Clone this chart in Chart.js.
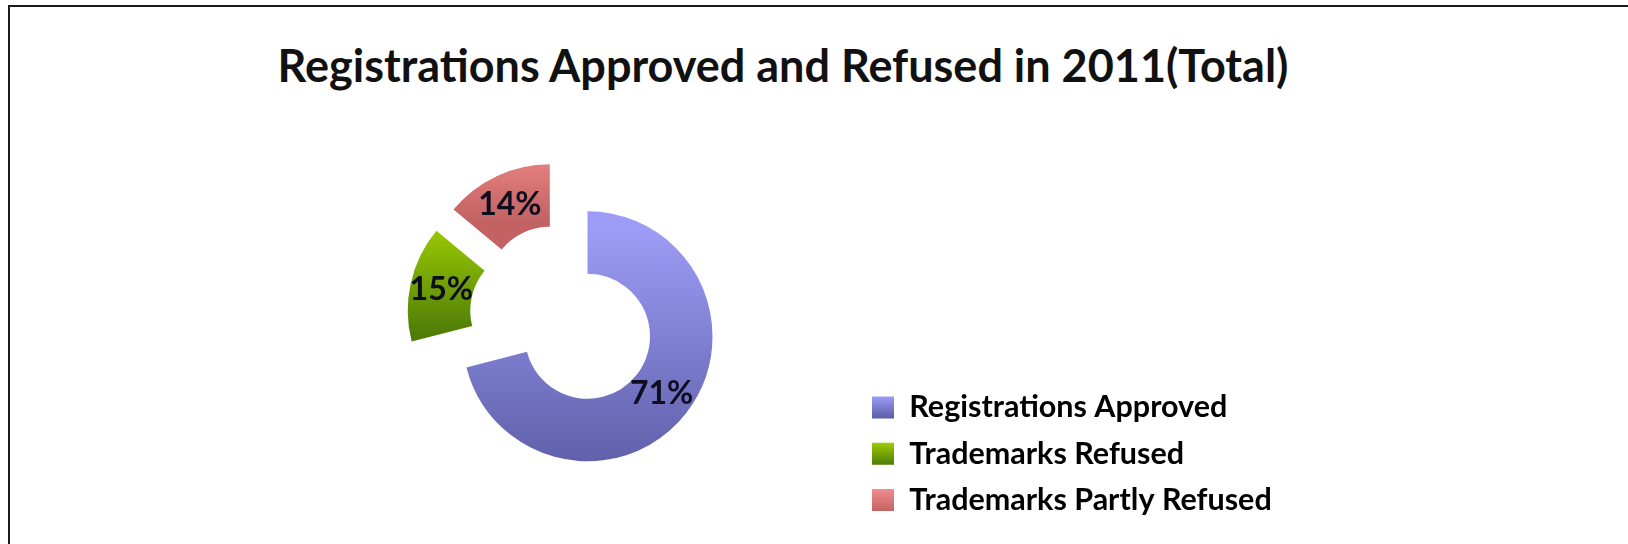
<!DOCTYPE html>
<html>
<head>
<meta charset="utf-8">
<title>Registrations Approved and Refused in 2011</title>
<script src="https://cdn.jsdelivr.net/npm/chart.js@4.4.1/dist/chart.umd.min.js"></script>
<style>
  html, body { margin: 0; padding: 0; background: #fff; overflow: hidden; }
  /* the picture is cropped: only the top and left edge of the frame show */
  #frame {
    position: absolute; left: 8px; top: 5px; width: 1640px; height: 560px;
    border-top: 2px solid #1b1b1b; border-left: 2px solid #1b1b1b;
  }
  #chart-title {
    position: absolute; left: 0; top: 38px; width: 1566px; margin: 0;
    text-align: center; font: bold 45px Lato, sans-serif; line-height: 54px; color: #111;
  }
  #registrations-chart { position: absolute; left: 0; top: 0; }
</style>
</head>
<body>
<div id="frame"></div>
<h1 id="chart-title">Registrations Approved and Refused in 2011(Total)</h1>
<canvas id="registrations-chart" width="1628" height="544"></canvas>
<script>
  // Data (percent of all decisions in 2011)
  const categories = ["Registrations Approved", "Trademarks Refused", "Trademarks Partly Refused"];
  const shares = [71, 15, 14];

  // Office-style shading: light at the top of each slice, dark at the bottom
  const topColors = ["#9c9cf6", "#9dcc02", "#f28c8c"];
  const bottomColors = ["#5b5ba5", "#4e7c08", "#c26262"];

  const explode = 31;
  const legendFont = { family: "Lato", size: 30.5, weight: "bold" };
  const legendPadding = 15.75;
  const legendBox = 22;
  const padBottom = 13;

  // Vertical gradient spanning the slice's own height
  const sliceGradient = (context) => {
    const i = context.dataIndex;
    const arc = context.chart.getDatasetMeta(0).data[i];
    if (!arc || !arc.outerRadius) return topColors[i];
    const { y, startAngle, endAngle, innerRadius, outerRadius } = arc;
    const mid = (startAngle + endAngle) / 2;
    const cy = y + Math.sin(mid) * explode;
    const angles = [startAngle, endAngle];
    [-Math.PI / 2, Math.PI / 2, Math.PI * 1.5].forEach((a) => {
      if (a > startAngle && a < endAngle) angles.push(a);
    });
    let top = Infinity, bottom = -Infinity;
    angles.forEach((a) => {
      [innerRadius, outerRadius].forEach((r) => {
        const py = cy + Math.sin(a) * r;
        top = Math.min(top, py);
        bottom = Math.max(bottom, py);
      });
    });
    const g = context.chart.ctx.createLinearGradient(0, top, 0, bottom);
    g.addColorStop(0, topColors[i]);
    g.addColorStop(1, bottomColors[i]);
    return g;
  };

  // Same shading for the small legend squares
  const legendGradient = (chart, i) => {
    const pitch = legendFont.size + legendPadding;
    const rowTop = chart.height - padBottom - (categories.length - i) * pitch;
    const boxTop = rowTop + (legendFont.size - legendBox) / 2;
    const g = chart.ctx.createLinearGradient(0, boxTop, 0, boxTop + legendBox);
    g.addColorStop(0, topColors[i]);
    g.addColorStop(1, bottomColors[i]);
    return g;
  };

  // Pull every slice out from the centre along its middle angle
  const explodedSlices = {
    id: "explodedSlices",
    beforeDatasetDraw(chart, args) {
      const { ctx } = chart;
      args.meta.data.forEach((arc) => {
        const mid = (arc.startAngle + arc.endAngle) / 2;
        ctx.save();
        ctx.translate(Math.cos(mid) * explode, Math.sin(mid) * explode);
        arc.draw(ctx, chart.chartArea);
        ctx.restore();
      });
      return false;
    },
  };

  // Percent labels in the middle of each (exploded) slice
  const percentLabels = {
    id: "percentLabels",
    afterDatasetsDraw(chart) {
      const { ctx } = chart;
      const meta = chart.getDatasetMeta(0);
      const total = shares.reduce((a, b) => a + b, 0);
      ctx.save();
      ctx.font = "bold 32px Lato";
      ctx.fillStyle = "#0e0e1e";
      ctx.textAlign = "center";
      ctx.textBaseline = "middle";
      meta.data.forEach((arc, i) => {
        const { x, y, startAngle, endAngle, innerRadius, outerRadius } = arc;
        const mid = (startAngle + endAngle) / 2;
        const r = (innerRadius + outerRadius) / 2 + explode;
        const text = Math.round((shares[i] / total) * 100) + "%";
        ctx.fillText(text, x + Math.cos(mid) * r, y + Math.sin(mid) * r);
      });
      ctx.restore();
    },
  };

  // Work out the right padding so the legend sits where the reference has it
  const measureCtx = document.createElement("canvas").getContext("2d");
  measureCtx.font = `bold ${legendFont.size}px ${legendFont.family}`;
  const widest = Math.max(...categories.map((c) => measureCtx.measureText(c).width));
  const areaRight = 872 - legendPadding;
  const areaLeft = 2 * 563 - areaRight;
  const legendWidth = legendPadding + legendBox + legendFont.size / 2 + widest + 10;

  const createChart = (ctx) => {
    return new Chart(ctx, {
      type: "doughnut",
      data: {
        labels: categories,
        datasets: [
          {
            data: shares,
            backgroundColor: sliceGradient,
            borderWidth: 0,
            offset: 0,
            hoverOffset: 0,
            radius: 125,
            cutout: "50%",
          },
        ],
      },
      options: {
        responsive: false,
        animation: false,
        events: [],
        layout: {
          padding: {
            left: areaLeft,
            right: Math.max(1628 - areaRight - legendWidth, 0),
            top: 2 * 317.3 - (544 - padBottom),
            bottom: padBottom,
          },
        },
        plugins: {
          title: { display: false },
          tooltip: { enabled: false },
          legend: {
            position: "right",
            align: "end",
            labels: {
              font: legendFont,
              color: "#111",
              boxWidth: legendBox,
              boxHeight: legendBox,
              padding: legendPadding,
              generateLabels: (chart) =>
                categories.map((text, i) => ({
                  text,
                  fillStyle: legendGradient(chart, i),
                  strokeStyle: "rgba(0,0,0,0)",
                  lineWidth: 0,
                  hidden: false,
                  index: i,
                })),
            },
          },
        },
      },
      plugins: [explodedSlices, percentLabels],
    });
  };

  const initChart = () => {
    const ctx = document.getElementById("registrations-chart").getContext("2d");
    const chart = createChart(ctx);
    // second pass so the gradients can use the slice geometry
    chart.update();
  };

  initChart();
</script>
</body>
</html>
